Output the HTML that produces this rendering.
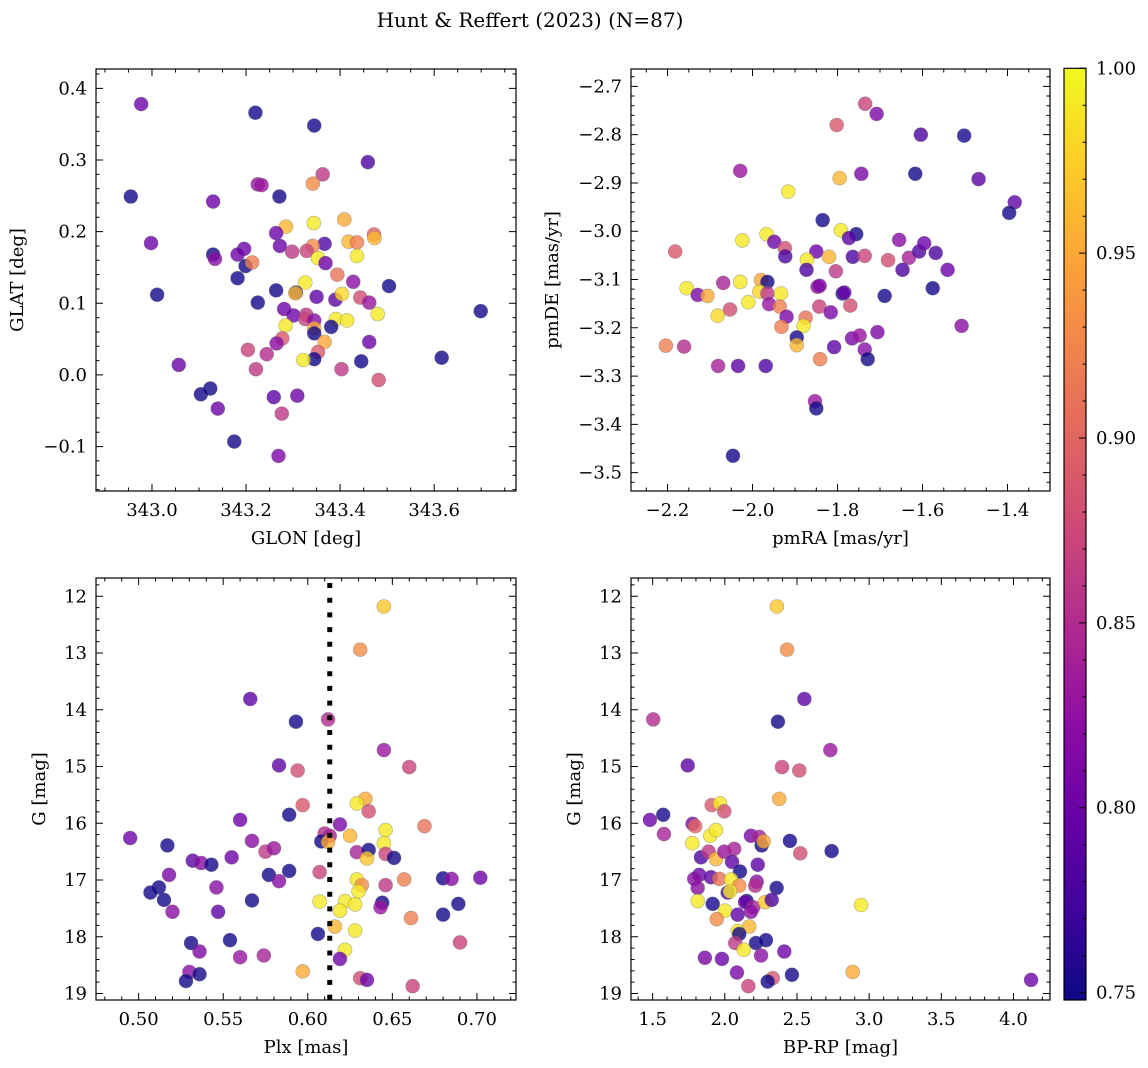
<!DOCTYPE html>
<html><head><meta charset="utf-8">
<style>
html,body{margin:0;padding:0;background:#fff;}
svg{display:block;font-family:"DejaVu Serif","Liberation Serif",serif;}
</style></head>
<body>
<svg id="fig" width="1148" height="1068" viewBox="0 0 1148 1068" xmlns="http://www.w3.org/2000/svg">
<defs>
<linearGradient id="plasmaGrad" x1="0" y1="1" x2="0" y2="0">
<stop offset="0" stop-color="#0d0887"/><stop offset="0.1" stop-color="#41049d"/><stop offset="0.2" stop-color="#6a00a8"/><stop offset="0.3" stop-color="#8f0da4"/><stop offset="0.4" stop-color="#b12a90"/><stop offset="0.5" stop-color="#cc4778"/><stop offset="0.6" stop-color="#e16462"/><stop offset="0.7" stop-color="#f2844b"/><stop offset="0.8" stop-color="#fca636"/><stop offset="0.9" stop-color="#fcce25"/><stop offset="1" stop-color="#f0f921"/>
</linearGradient>
</defs>
<text x="530" y="27" font-size="20" text-anchor="middle">Hunt &amp; Reffert (2023) (N=87)</text>
</svg>
<script>
// ---------- data ----------
const p1x=[342.977,343.220,343.345,343.459,343.363,343.342,343.225,343.233,342.955,343.271,343.130,343.285,343.344,343.409,343.264,343.472,343.473,342.998,343.272,343.298,343.367,343.418,343.436,343.342,343.329,343.353,343.436,343.130,343.134,343.196,343.182,343.199,343.213,343.369,343.394,343.428,343.326,343.182,343.504,343.011,343.264,343.306,343.305,343.350,343.225,343.390,343.404,343.443,343.462,343.480,343.699,343.281,343.301,343.328,343.326,343.345,343.284,343.391,343.415,343.381,343.345,343.345,343.367,343.277,343.265,343.462,343.204,343.244,343.353,343.345,343.322,343.445,343.616,343.057,343.221,343.403,343.482,343.124,343.104,343.259,343.309,343.140,343.276,343.175,343.269];
const p1y=[0.378,0.366,0.348,0.297,0.280,0.267,0.266,0.265,0.249,0.249,0.242,0.207,0.212,0.217,0.198,0.196,0.191,0.184,0.180,0.172,0.183,0.186,0.185,0.180,0.173,0.163,0.166,0.168,0.162,0.176,0.168,0.152,0.157,0.156,0.140,0.130,0.129,0.135,0.124,0.112,0.118,0.115,0.114,0.109,0.101,0.105,0.113,0.108,0.101,0.085,0.089,0.092,0.083,0.084,0.078,0.076,0.069,0.078,0.076,0.067,0.065,0.058,0.046,0.051,0.044,0.046,0.035,0.029,0.032,0.022,0.021,0.019,0.024,0.014,0.008,0.008,-0.007,-0.019,-0.027,-0.031,-0.029,-0.047,-0.054,-0.093,-0.113];
const p1c=[.80,.75,.75,.78,.86,.93,.83,.83,.75,.75,.80,.96,.99,.95,.80,.90,.96,.80,.80,.86,.78,.96,.92,.93,.87,.99,.99,.75,.82,.80,.80,.75,.92,.80,.91,.82,.99,.75,.75,.75,.75,.75,.96,.79,.75,.79,.98,.88,.83,.99,.75,.80,.80,.86,.87,.82,.99,.99,.99,.75,.95,.75,.95,.89,.82,.80,.87,.85,.89,.75,.99,.75,.75,.80,.86,.86,.88,.75,.75,.79,.80,.80,.86,.75,.81];

const p2x=[-1.735,-1.708,-1.802,-1.604,-1.502,-2.029,-1.795,-1.744,-1.617,-1.468,-1.916,-1.383,-1.396,-1.835,-1.792,-1.756,-1.773,-2.024,-1.967,-1.949,-1.655,-2.182,-1.924,-1.923,-1.850,-1.820,-1.872,-1.764,-1.736,-1.681,-1.632,-1.608,-1.596,-1.569,-1.873,-1.804,-1.647,-1.541,-2.155,-2.129,-2.106,-2.069,-2.029,-1.980,-1.965,-1.984,-1.965,-1.933,-2.010,-1.961,-1.936,-2.053,-2.082,-1.920,-1.875,-1.880,-1.932,-1.847,-1.842,-1.788,-1.784,-1.843,-1.816,-1.770,-1.689,-1.576,-1.508,-1.896,-1.896,-2.204,-2.161,-1.808,-1.766,-1.748,-1.706,-1.736,-1.729,-1.841,-2.081,-2.034,-1.969,-1.853,-1.850,-2.046];
const p2y=[-2.736,-2.757,-2.780,-2.800,-2.802,-2.875,-2.890,-2.881,-2.881,-2.892,-2.918,-2.940,-2.962,-2.977,-2.998,-3.006,-3.014,-3.019,-3.006,-3.022,-3.018,-3.042,-3.035,-3.052,-3.042,-3.053,-3.059,-3.053,-3.051,-3.060,-3.055,-3.042,-3.025,-3.045,-3.080,-3.083,-3.080,-3.080,-3.118,-3.132,-3.134,-3.107,-3.105,-3.101,-3.105,-3.125,-3.129,-3.129,-3.147,-3.151,-3.156,-3.162,-3.175,-3.177,-3.179,-3.196,-3.198,-3.115,-3.113,-3.129,-3.127,-3.156,-3.168,-3.154,-3.134,-3.118,-3.196,-3.220,-3.236,-3.237,-3.239,-3.240,-3.222,-3.216,-3.209,-3.245,-3.265,-3.265,-3.279,-3.279,-3.279,-3.352,-3.367,-3.465];
const p2c=[.87,.81,.89,.78,.75,.83,.96,.81,.75,.79,.99,.79,.75,.75,.99,.75,.79,.99,.99,.80,.82,.89,.88,.78,.80,.96,.99,.78,.87,.88,.84,.78,.80,.78,.78,.86,.78,.80,.99,.81,.95,.84,.99,.95,.75,.98,.86,.99,.99,.83,.92,.88,.98,.81,.91,.99,.92,.83,.81,.75,.80,.87,.81,.88,.75,.75,.82,.75,.96,.92,.85,.79,.81,.83,.81,.82,.75,.92,.84,.79,.78,.83,.75,.75];

const p3x=[0.645,0.631,0.566,0.593,0.612,0.645,0.583,0.594,0.660,0.597,0.634,0.629,0.636,0.589,0.560,0.619,0.669,0.495,0.517,0.567,0.610,0.613,0.608,0.612,0.625,0.646,0.645,0.575,0.580,0.629,0.636,0.635,0.646,0.651,0.532,0.537,0.543,0.555,0.518,0.577,0.589,0.583,0.607,0.629,0.632,0.630,0.646,0.657,0.680,0.685,0.702,0.512,0.507,0.515,0.546,0.567,0.607,0.622,0.619,0.628,0.644,0.643,0.689,0.680,0.520,0.547,0.661,0.616,0.628,0.606,0.531,0.554,0.690,0.536,0.622,0.560,0.574,0.619,0.597,0.530,0.536,0.528,0.631,0.635,0.662];
const p3y=[12.18,12.94,13.81,14.21,14.17,14.71,14.98,15.07,15.01,15.68,15.57,15.65,15.79,15.85,15.94,16.02,16.05,16.26,16.39,16.31,16.18,16.22,16.32,16.33,16.22,16.12,16.35,16.50,16.44,16.51,16.47,16.62,16.54,16.61,16.66,16.70,16.73,16.60,16.91,16.91,16.84,17.02,16.86,16.99,17.09,17.20,17.09,16.99,16.97,16.98,16.96,17.13,17.22,17.35,17.13,17.36,17.38,17.37,17.54,17.43,17.40,17.48,17.42,17.61,17.56,17.56,17.67,17.82,17.89,17.95,18.11,18.06,18.10,18.26,18.23,18.36,18.33,18.39,18.61,18.62,18.66,18.78,18.73,18.76,18.87];
const p3c=[.97,.93,.79,.75,.85,.83,.79,.88,.87,.89,.95,.99,.88,.75,.80,.81,.91,.80,.75,.82,.85,.84,.75,.95,.96,.99,.99,.86,.83,.84,.75,.97,.87,.75,.79,.82,.75,.80,.81,.75,.75,.82,.87,.99,.93,.99,.86,.92,.75,.82,.80,.75,.75,.75,.82,.75,.99,.99,.99,.99,.75,.83,.75,.75,.82,.79,.92,.96,.99,.75,.75,.75,.87,.81,.99,.83,.84,.80,.95,.82,.75,.75,.88,.80,.87];

const p4x=[2.361,2.431,2.551,1.504,2.368,2.731,1.743,2.396,2.516,2.377,1.909,1.966,1.996,1.481,1.573,1.777,1.795,1.578,1.899,1.939,1.774,2.181,2.239,2.255,2.269,2.451,2.523,2.740,1.835,1.888,1.939,1.996,2.065,2.050,2.228,2.105,1.823,1.904,1.962,2.043,1.788,1.812,2.100,2.221,2.211,2.359,2.020,2.036,1.812,1.916,2.151,2.140,2.197,2.280,2.325,2.944,2.001,2.089,2.181,1.944,2.169,2.089,2.100,2.072,2.216,2.285,2.131,2.412,2.251,1.862,1.980,2.084,2.465,2.886,2.332,2.297,2.163,4.122];
const p4y=[12.18,12.94,13.81,14.17,14.21,14.71,14.98,15.01,15.07,15.57,15.68,15.65,15.79,15.94,15.85,16.01,16.05,16.19,16.22,16.12,16.35,16.22,16.24,16.39,16.32,16.31,16.53,16.49,16.60,16.50,16.63,16.50,16.45,16.68,16.73,16.85,16.91,16.95,16.98,16.99,16.98,17.14,17.10,17.03,17.10,17.14,17.22,17.20,17.37,17.42,17.37,17.39,17.48,17.39,17.35,17.44,17.54,17.61,17.56,17.69,17.82,17.90,17.95,18.11,18.11,18.06,18.23,18.26,18.33,18.37,18.39,18.63,18.67,18.62,18.73,18.79,18.87,18.76];
const p4c=[.97,.93,.79,.85,.75,.83,.79,.87,.88,.95,.89,.99,.88,.80,.75,.81,.90,.84,.99,.99,.99,.81,.84,.75,.95,.75,.88,.75,.78,.86,.96,.83,.84,.79,.79,.75,.80,.79,.91,.99,.82,.82,.93,.82,.85,.75,.78,.99,.99,.75,.75,.80,.84,.97,.78,.99,.99,.79,.82,.93,.96,.99,.75,.86,.75,.75,.99,.80,.82,.81,.80,.81,.75,.95,.89,.75,.87,.80];

const p1xTicks=[343.0,343.2,343.4,343.6];
const p1yTicks=[-0.1,0.0,0.1,0.2,0.3,0.4];
const p2xTicks=[-2.2,-2.0,-1.8,-1.6,-1.4];
const p2yTicks=[-3.5,-3.4,-3.3,-3.2,-3.1,-3.0,-2.9,-2.8,-2.7];
const p3xTicks=[0.50,0.55,0.60,0.65,0.70];
const gTicks=[12,13,14,15,16,17,18,19];
const p4xTicks=[1.5,2.0,2.5,3.0,3.5,4.0];
const cbTicks=[0.75,0.80,0.85,0.90,0.95,1.00];
const plxRef=[0.613];
const cMin=0.748, cMax=1.0;

// ---------- helpers ----------
const NS="http://www.w3.org/2000/svg";
const svg=document.getElementById('fig');
const stops=[[13,8,135],[65,4,157],[106,0,168],[143,13,164],[177,42,144],[204,71,120],[225,100,98],[242,132,75],[252,166,54],[252,206,37],[240,249,33]];
function plasma(v){
  let t=Math.max(0,Math.min(1,(v-cMin)/(cMax-cMin)))*10;
  let i=Math.min(9,Math.floor(t)),f=t-i;
  const a=stops[i],b=stops[i+1];
  return 'rgb('+[0,1,2].map(k=>Math.round(a[k]+(b[k]-a[k])*f)).join(',')+')';
}
function mk(tag,attrs,parent){
  const e=document.createElementNS(NS,tag);
  for(const k in attrs)e.setAttribute(k,attrs[k]);
  (parent||svg).appendChild(e);return e;
}
function fmt(v,d){const s=Math.abs(v).toFixed(d);return (v<-1e-9?'\u2212':'')+s;}

function panel(o){
  const g=mk('g',{});
  
  
  const sx=v=>o.L+(v-o.dx[0])/(o.dx[1]-o.dx[0])*(o.R-o.L);
  const sy=o.inv?(v=>o.T+(v-o.dy[0])/(o.dy[1]-o.dy[0])*(o.B-o.T)):(v=>o.B-(v-o.dy[0])/(o.dy[1]-o.dy[0])*(o.B-o.T));
  const n=Math.min(o.xs.length,o.ys.length,o.cs.length);
  for(let i=0;i<n;i++){
    const c=mk('circle',{cx:sx(o.xs[i]),cy:sy(o.ys[i]),r:7,fill:plasma(o.cs[i]),'fill-opacity':0.8,stroke:'#666','stroke-opacity':0.5,'stroke-width':0.6},g);
    
    
  }
  if(o.vline){
    const ln=mk('line',{x1:sx(o.vline[0]),x2:sx(o.vline[0]),y1:o.T+5,y2:o.B,stroke:'#000','stroke-width':5,'stroke-dasharray':'5 9.7'},g);
    
    
  }
  const fr=mk('rect',{x:o.L,y:o.T,width:o.R-o.L,height:o.B-o.T,fill:'none',stroke:'#000','stroke-width':1.2},g);
  
  
  const tk=[];
  const addTicks=(lo,hi,step,isX,len)=>{
    for(let k=Math.ceil(lo/step-1e-6);k<=Math.floor(hi/step+1e-6);k++){
      const v=k*step;
      if(isX){const x=sx(v);tk.push(`M${x},${o.B}v${-len}M${x},${o.T}v${len}`);}
      else{const y=sy(v);tk.push(`M${o.L},${y}h${len}M${o.R},${y}h${-len}`);}
    }
  };
  addTicks(o.dx[0],o.dx[1],o.xmin,true,3.5);
  addTicks(o.dy[0],o.dy[1],o.ymin,false,3.5);
  o.xt.forEach(v=>{const x=sx(v);tk.push(`M${x},${o.B}v-7M${x},${o.T}v7`);});
  o.yt.forEach(v=>{const y=sy(v);tk.push(`M${o.L},${y}h7M${o.R},${y}h-7`);});
  const tp=mk('path',{d:tk.join(''),stroke:'#000','stroke-width':1,fill:'none'},g);
  
  
  o.xt.forEach(v=>{
    const t=mk('text',{x:sx(v),y:o.B+25,'font-size':18,'text-anchor':'middle'},g);
    t.textContent=fmt(v,o.xd);
    
    
  });
  o.yt.forEach(v=>{
    const t=mk('text',{x:o.L-9,y:sy(v)+6,'font-size':18,'text-anchor':'end'},g);
    t.textContent=fmt(v,o.yd);
    
    
  });
  const xl=mk('text',{x:(o.L+o.R)/2,y:o.B+53,'font-size':18,'text-anchor':'middle'},g);
  xl.textContent=o.xlab;
  
  
  const yl=mk('text',{x:0,y:0,'font-size':18,'text-anchor':'middle',transform:`translate(${o.ylx},${(o.T+o.B)/2}) rotate(-90)`},g);
  yl.textContent=o.ylab;
  
  
}

panel({name:'glon-glat-panel',L:96,R:516,T:69,B:491,dx:[342.881,343.774],dy:[-0.162,0.427],inv:false,xs:p1x,ys:p1y,cs:p1c,xt:p1xTicks,yt:p1yTicks,xmin:0.05,ymin:0.02,xd:1,yd:1,xlab:'GLON [deg]',ylab:'GLAT [deg]',ylx:23});
panel({name:'proper-motion-panel',L:631,R:1050,T:69,B:491,dx:[-2.286,-1.300],dy:[-3.538,-2.664],inv:false,xs:p2x,ys:p2y,cs:p2c,xt:p2xTicks,yt:p2yTicks,xmin:0.05,ymin:0.02,xd:1,yd:1,xlab:'pmRA [mas/yr]',ylab:'pmDE [mas/yr]',ylx:558});
panel({name:'parallax-mag-panel',L:96,R:516,T:578,B:1000,dx:[0.4748,0.7231],dy:[11.678,19.114],inv:true,xs:p3x,ys:p3y,cs:p3c,xt:p3xTicks,yt:gTicks,xmin:0.01,ymin:0.2,xd:2,yd:0,xlab:'Plx [mas]',ylab:'G [mag]',ylx:45,vline:plxRef});
panel({name:'cmd-panel',L:631,R:1050,T:578,B:1000,dx:[1.350,4.253],dy:[11.678,19.114],inv:true,xs:p4x,ys:p4y,cs:p4c,xt:p4xTicks,yt:gTicks,xmin:0.1,ymin:0.2,xd:1,yd:0,xlab:'BP-RP [mag]',ylab:'G [mag]',ylx:580});

// ---------- colorbar ----------
const cb=mk('g',{});


const cbT=68.3,cbB=1000,cbL=1064,cbR=1086;
const cy=v=>cbB-(v-cMin)/(cMax-cMin)*(cbB-cbT);
const cr=mk('rect',{x:cbL,y:cbT,width:cbR-cbL,height:cbB-cbT,fill:'url(#plasmaGrad)',stroke:'#000','stroke-width':1.2},cb);


const ct=[];
for(let k=75;k<=100;k++){const y=cy(k/100);ct.push(`M${cbR},${y}h${k%5===0?-7:-3.5}`);}
const cp=mk('path',{d:ct.join(''),stroke:'#000','stroke-width':1,fill:'none'},cb);


cbTicks.forEach(v=>{
  const t=mk('text',{x:1096,y:cy(v)+6,'font-size':18},cb);
  t.textContent=v.toFixed(2);
  
  
});
</script>
</body></html>
